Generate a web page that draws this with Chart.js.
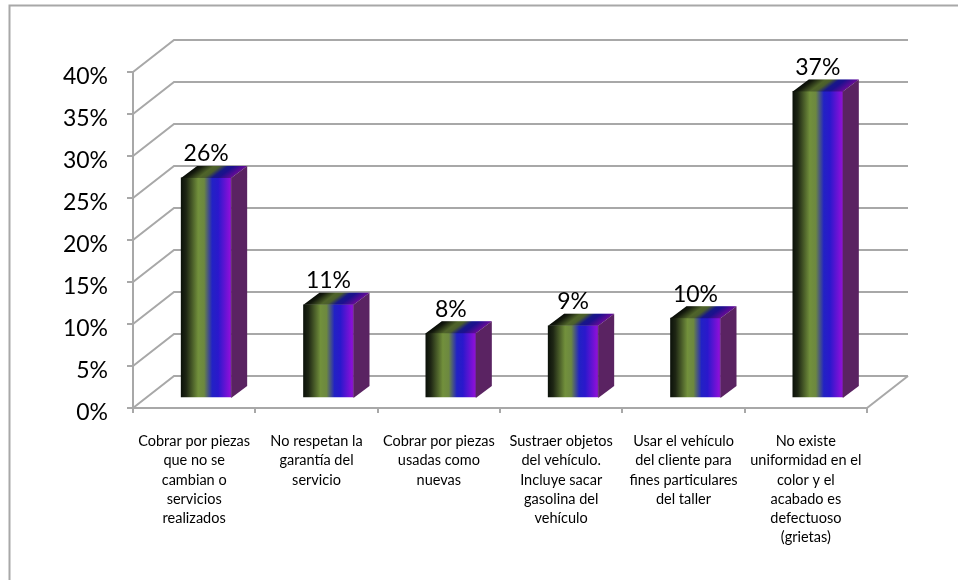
<!DOCTYPE html>
<html>
<head>
<meta charset="utf-8">
<script src="https://cdn.jsdelivr.net/npm/chart.js@4"></script>
<style>
body { margin: 0; background: #fff; }
</style>
</head>
<body>
<canvas id="bar-chart" width="958" height="580"></canvas>
<script>
var categories = [
    ['Cobrar por piezas', 'que no se', 'cambian o', 'servicios', 'realizados'],
    ['No respetan la', 'garantía del', 'servicio'],
    ['Cobrar por piezas', 'usadas como', 'nuevas'],
    ['Sustraer objetos', 'del vehículo.', 'Incluye sacar', 'gasolina del', 'vehículo'],
    ['Usar el vehículo', 'del cliente para', 'fines particulares', 'del taller'],
    ['No existe', 'uniformidad en el', 'color y el', 'acabado es', 'defectuoso', '(grietas)']
];
var values = [26.2, 11.1, 7.7, 8.6, 9.5, 36.5];

var gridColor = '#a8a8a8';
var wall = {dx: 41, dy: -32};      // back wall offset from the axis
var barShift = {dx: 12, dy: -10};  // bars stand part way back on the floor
var barDepth = {dx: 16, dy: -12};
var barW = 50;

function faceGradient(ctx, x0, x1) {
    var g = ctx.createLinearGradient(x0, 0, x1, 0);
    g.addColorStop(0, '#0c120a');
    g.addColorStop(0.1, '#1e2614');
    g.addColorStop(0.34, '#72903c');
    g.addColorStop(0.46, '#6c8840');
    g.addColorStop(0.62, '#2222c4');
    g.addColorStop(0.74, '#2a18cc');
    g.addColorStop(0.97, '#8a10d8');
    g.addColorStop(1, '#7a20b0');
    return g;
}

var frame3d = {
    id: 'frame3d',
    beforeDatasetsDraw: function(chart) {
        var c = chart.ctx, x = chart.scales.x, y = chart.scales.y;
        c.save();
        c.strokeStyle = gridColor;
        c.lineWidth = 2;
        // outer frame, only top and left show
        c.beginPath();
        c.moveTo(9.5, 580); c.lineTo(9.5, 5.5); c.lineTo(958, 5.5);
        c.stroke();
        y.ticks.forEach(function(t) {
            var py = y.getPixelForValue(t.value);
            c.beginPath();
            c.moveTo(x.left, py);
            c.lineTo(x.left + wall.dx, py + wall.dy);
            c.lineTo(x.right + wall.dx, py + wall.dy);
            c.stroke();
        });
        var py0 = y.getPixelForValue(0);
        c.beginPath();
        c.moveTo(x.right, py0);
        c.lineTo(x.right + wall.dx, py0 + wall.dy);
        c.stroke();
        c.restore();
    },
    beforeDatasetDraw: function(chart) {
        chart.ctx.save();
        chart.ctx.translate(barShift.dx, barShift.dy);
    },
    afterDatasetDraw: function(chart) {
        chart.ctx.restore();
    },
    afterDatasetsDraw: function(chart) {
        var c = chart.ctx, y = chart.scales.y;
        chart.getDatasetMeta(0).data.forEach(function(bar, i) {
            var left = bar.x - barW / 2 + barShift.dx;
            var right = left + barW;
            var top = bar.y + barShift.dy;
            var bottom = y.getPixelForValue(0) + barShift.dy;

            c.save();
            c.fillStyle = '#5a2362';
            c.beginPath();
            c.moveTo(right, top);
            c.lineTo(right + barDepth.dx, top + barDepth.dy);
            c.lineTo(right + barDepth.dx, bottom + barDepth.dy);
            c.lineTo(right, bottom);
            c.closePath();
            c.fill();
            c.restore();

            // top face, same colours skewed back and darkened
            c.save();
            c.translate(left, top);
            c.transform(1, 0, barDepth.dx / barDepth.dy, 1, 0, 0);
            c.fillStyle = faceGradient(c, 0, barW);
            c.fillRect(0, barDepth.dy, barW, -barDepth.dy);
            c.fillStyle = 'rgba(0,0,0,0.3)';
            c.fillRect(0, barDepth.dy, barW, -barDepth.dy);
            c.restore();

            c.save();
            c.fillStyle = '#000';
            c.font = '23px Lato';
            c.textAlign = 'center';
            c.textBaseline = 'middle';
            c.fillText(Math.round(values[i]) + '%', left + barW / 2, top - 24);
            c.restore();
        });
    }
};

var chart = new Chart(document.getElementById('bar-chart'), {
    type: 'bar',
    data: {
        labels: categories,
        datasets: [{
            data: values,
            barThickness: barW,
            borderWidth: 0,
            clip: false,
            backgroundColor: function(ctx) {
                var sx = ctx.chart.scales.x;
                if (!sx || ctx.dataIndex === undefined) return '#72903c';
                // the canvas is already translated by barShift when bars are drawn
                var cx = sx.getPixelForValue(ctx.dataIndex);
                if (!isFinite(cx)) return '#72903c';
                return faceGradient(ctx.chart.ctx, cx - barW / 2, cx + barW / 2);
            }
        }]
    },
    options: {
        responsive: false,
        animation: false,
        layout: {padding: {top: 72, right: 91, left: 0, bottom: 0}},
        plugins: {legend: {display: false}, tooltip: {enabled: false}},
        scales: {
            x: {
                afterFit: function(s) { s.height = 172; },
                border: {color: gridColor, width: 2},
                grid: {drawOnChartArea: false, color: gridColor, lineWidth: 2, tickLength: 5},
                ticks: {color: '#000', font: {family: 'Lato', size: 14.5, lineHeight: 1.32}, padding: 19, maxRotation: 0, autoSkip: false}
            },
            y: {
                min: 0,
                max: 40,
                afterFit: function(s) { s.width = 133; },
                border: {color: gridColor, width: 2},
                grid: {drawOnChartArea: false, color: gridColor, lineWidth: 2, tickLength: 6},
                ticks: {
                    stepSize: 5,
                    color: '#000',
                    font: {family: 'Lato', size: 23},
                    padding: 19,
                    labelOffset: 5,
                    callback: function(v) { return v + '%'; }
                }
            }
        }
    },
    plugins: [frame3d]
});
</script>
</body>
</html>
